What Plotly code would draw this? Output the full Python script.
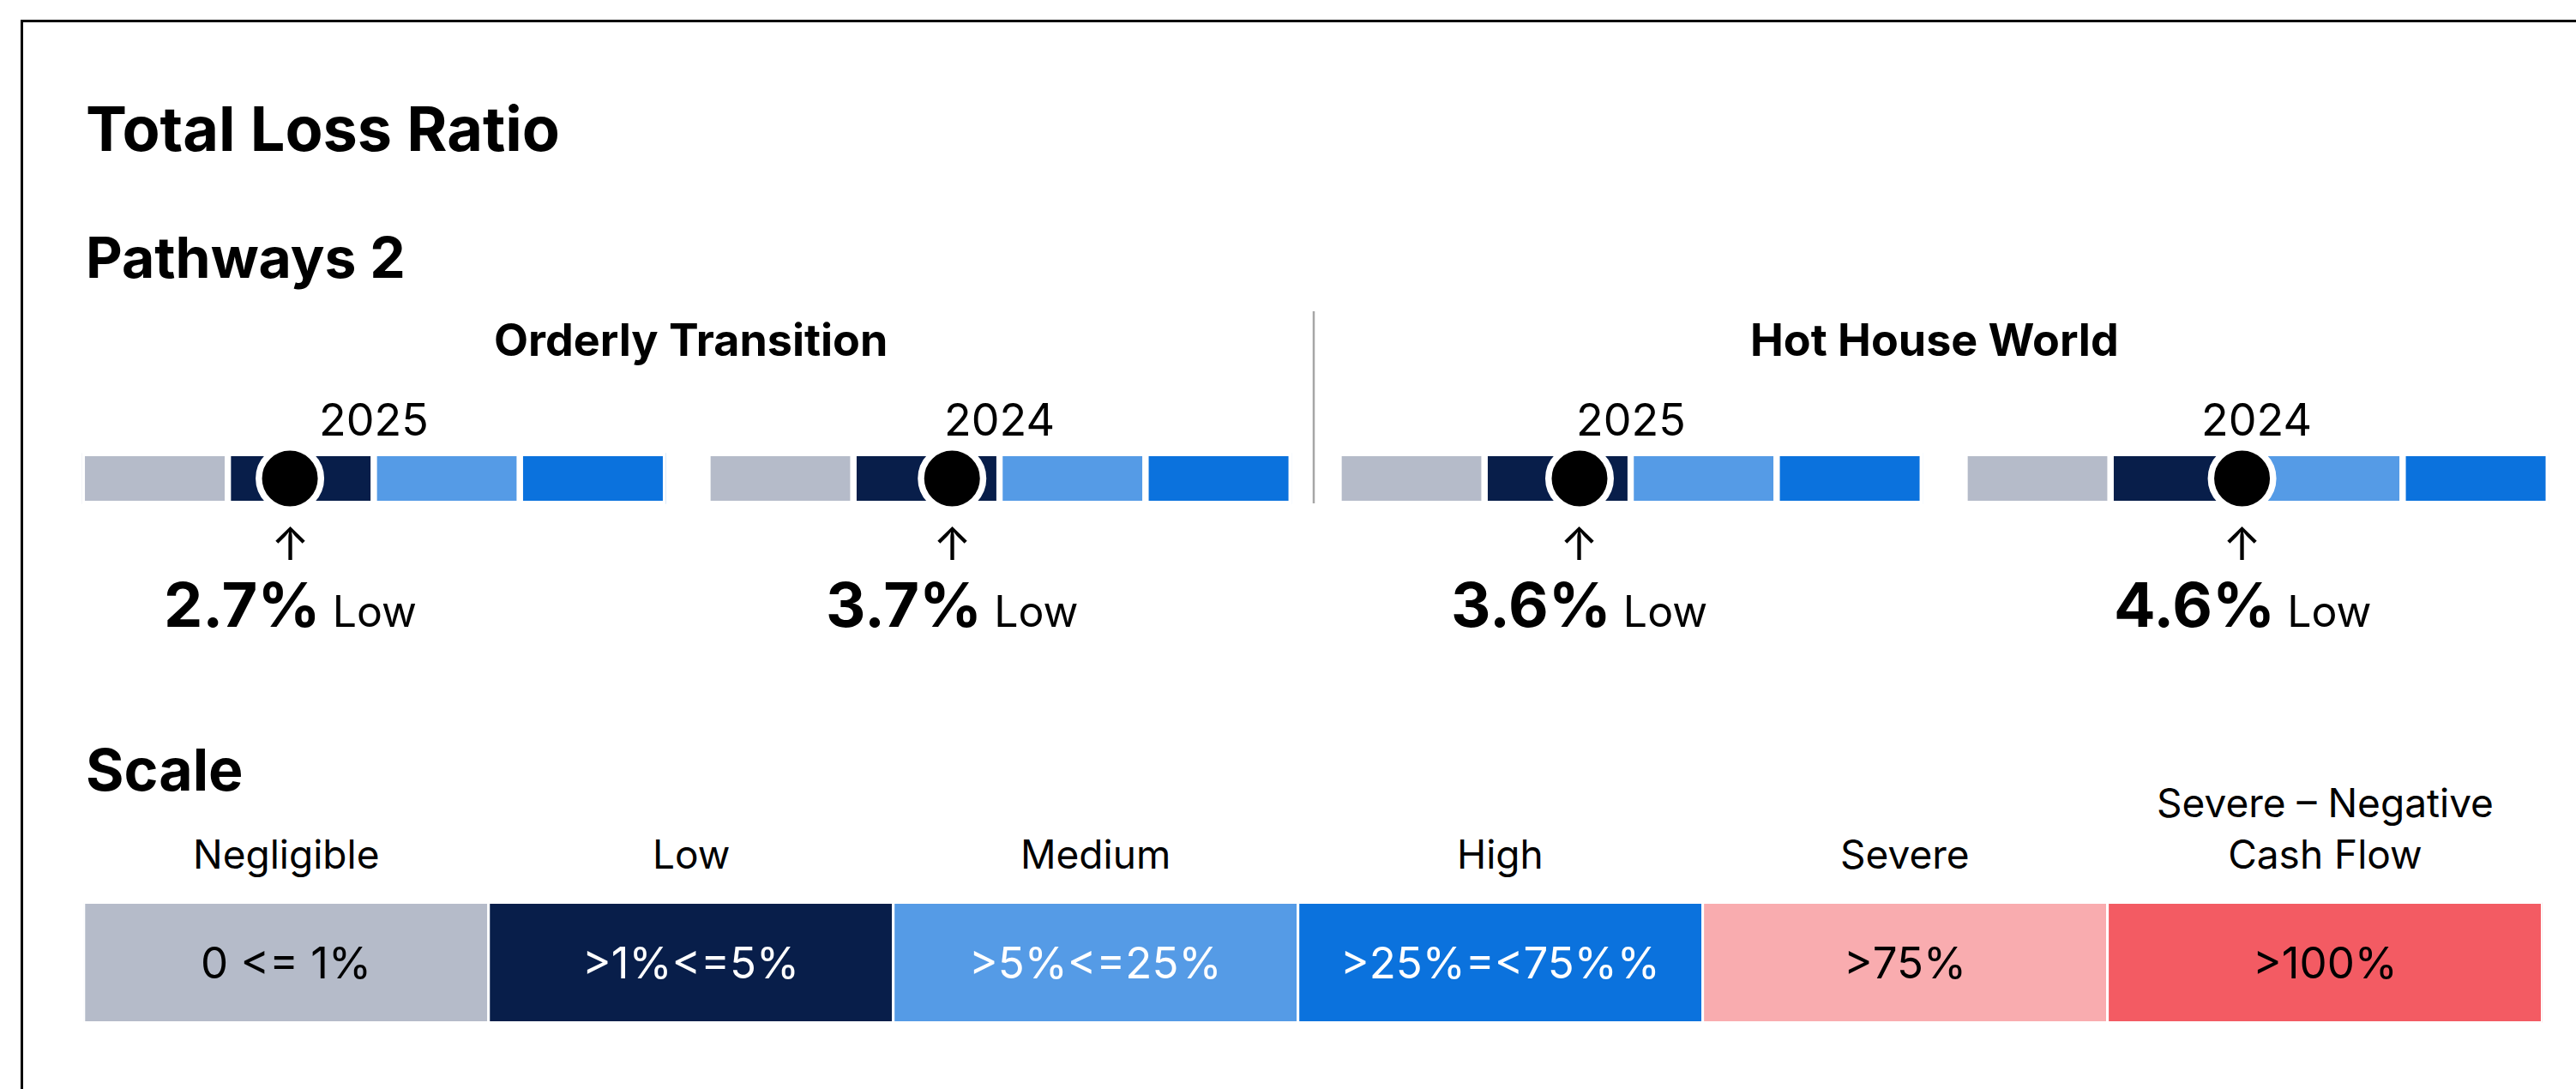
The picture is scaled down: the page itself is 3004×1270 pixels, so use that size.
import plotly.graph_objects as go

# ---------------- data ----------------
chart_title = "Total Loss Ratio"
pathway_title = "Pathways 2"
scale_title = "Scale"

scenarios = ["Orderly Transition", "Hot House World"]
gauge_scenario = ["Orderly Transition", "Orderly Transition", "Hot House World", "Hot House World"]
gauge_years = ["2025", "2024", "2025", "2024"]
gauge_values = [2.7, 3.7, 3.6, 4.6]          # total loss ratio, %
gauge_ratings = ["Low", "Low", "Low", "Low"]

band_names = ["Negligible", "Low", "Medium", "High", "Severe", "Severe – Negative<br>Cash Flow"]
band_ranges = ["0 <= 1%", ">1%<=5%", ">5%<=25%", ">25%=<75%%", ">75%", ">100%"]
band_lower = [0, 1, 5, 25, 75, 100]
band_upper = [1, 5, 25, 75, 100, 150]
gauge_band_count = 4                          # gauges show first four bands

# ---------------- styles / layout ----------------
W, H = 3004, 1270
FONT = "Inter, 'Noto Sans', 'DejaVu Sans', sans-serif"
band_colors = ["#B5BBC9", "#081E4A", "#559BE6", "#0B72DD", "#F9ACAF", "#F35B63"]
band_text_colors = ["#000000", "#FFFFFF", "#FFFFFF", "#FFFFFF", "#000000", "#000000"]

GAUGE_LEFT_PX = [95.4, 825.0, 1561.0, 2291.0]
GAUGE_UNIT_PX = 170.3
GAUGE_GAP_PX = 7.3
GAUGE_ROW_PX = (498, 618)        # y-axis domain in px (top, bottom)
GAUGE_BAR_PX = 52

SCALE_LEFT_PX, SCALE_RIGHT_PX = 97.8, 2964.5
LAST_COL_STRETCH = 1.074
SCALE_ROW_PX = (1030, 1215)
SCALE_BAR_PX = 137
SCALE_GAP_PX = 3


def px_x(p):
    return p / W


def px_y(p):
    return 1 - p / H


def band_position(v):
    """position of a value on the gauge axis (one unit per band)"""
    for i in range(gauge_band_count):
        lo, hi = band_lower[i], band_upper[i]
        if v <= hi:
            return i + (v - lo) / (hi - lo)
    return gauge_band_count


fig = go.Figure()
layout_axes = {}
annotations = []

# ---------------- gauges ----------------
g_dom_y = [px_y(GAUGE_ROW_PX[1]), px_y(GAUGE_ROW_PX[0])]
g_row_h = GAUGE_ROW_PX[1] - GAUGE_ROW_PX[0]
g_bar_w = (GAUGE_BAR_PX + GAUGE_GAP_PX) / g_row_h * 2

for gi in range(4):
    ax = "" if gi == 0 else str(gi + 1)
    xname = "x" + ax
    left = GAUGE_LEFT_PX[gi]
    right = left + GAUGE_UNIT_PX * gauge_band_count
    layout_axes["xaxis" + ax] = dict(domain=[px_x(left), px_x(right)], range=[0, gauge_band_count],
                                      visible=False, fixedrange=True, anchor="y")
    widths = [1] * gauge_band_count
    bases = list(range(gauge_band_count))
    fig.add_trace(go.Bar(
        orientation="h", x=widths, base=bases, y=[0] * gauge_band_count, width=g_bar_w,
        marker=dict(color=band_colors[:gauge_band_count], line=dict(color="white", width=GAUGE_GAP_PX)),
        xaxis=xname, yaxis="y", hoverinfo="skip", showlegend=False))
    pos = band_position(gauge_values[gi])
    fig.add_trace(go.Scatter(
        x=[pos], y=[0], mode="markers", xaxis=xname, yaxis="y",
        marker=dict(size=72.5, color="black", line=dict(color="white", width=7.5)),
        hoverinfo="skip", showlegend=False, cliponaxis=False))
    # year label
    annotations.append(dict(xref=xname, yref="paper", x=gauge_band_count / 2, y=px_y(489),
                            text=gauge_years[gi], showarrow=False, xanchor="center", yanchor="middle",
                            font=dict(family=FONT, size=52, color="black")))
    # arrow glyph
    annotations.append(dict(xref=xname, yref="paper", x=pos, y=px_y(633),
                            text="↑", showarrow=False, xanchor="center", yanchor="middle",
                            font=dict(family=FONT, size=54, color="black")))
    # value + rating
    annotations.append(dict(xref=xname, yref="paper", x=pos, y=px_y(704),
                            text=f"<span style='font-size:72px;font-weight:bold'>{gauge_values[gi]:.1f}%</span>"
                                 f"<span style='font-size:50px'> {gauge_ratings[gi]}</span>",
                            showarrow=False, xanchor="center", yanchor="middle",
                            font=dict(family=FONT, size=50, color="black")))

layout_axes["yaxis"] = dict(domain=g_dom_y, range=[-1, 1], visible=False, fixedrange=True, anchor="x")

# scenario headers
scenario_center_px = {"Orderly Transition": 805, "Hot House World": 2256}
for s in scenarios:
    annotations.append(dict(xref="paper", yref="paper", x=px_x(scenario_center_px[s]), y=px_y(396),
                            text=f"<b>{s}</b>", showarrow=False, xanchor="center", yanchor="middle",
                            font=dict(family=FONT, size=52, color="black")))

# ---------------- scale ----------------
s_widths = [1] * (len(band_names) - 1) + [LAST_COL_STRETCH]
s_bases = [sum(s_widths[:i]) for i in range(len(s_widths))]
s_total = sum(s_widths)
layout_axes["xaxis5"] = dict(domain=[px_x(SCALE_LEFT_PX), px_x(SCALE_RIGHT_PX)], range=[0, s_total],
                             visible=False, fixedrange=True, anchor="y2")
s_row_h = SCALE_ROW_PX[1] - SCALE_ROW_PX[0]
layout_axes["yaxis2"] = dict(domain=[px_y(SCALE_ROW_PX[1]), px_y(SCALE_ROW_PX[0])], range=[-1, 1],
                             visible=False, fixedrange=True, anchor="x5")
fig.add_trace(go.Bar(
    orientation="h", x=s_widths, base=s_bases, y=[0] * len(s_widths),
    width=(SCALE_BAR_PX + SCALE_GAP_PX) / s_row_h * 2,
    marker=dict(color=band_colors, line=dict(color="white", width=SCALE_GAP_PX)),
    xaxis="x5", yaxis="y2", hoverinfo="skip", showlegend=False))

for i, name in enumerate(band_names):
    cx = s_bases[i] + s_widths[i] / 2
    annotations.append(dict(xref="x5", yref="paper", x=cx, y=px_y(1026),
                            text=name, showarrow=False, xanchor="center", yanchor="bottom",
                            font=dict(family=FONT, size=46, color="black")))
    annotations.append(dict(xref="x5", yref="y2", x=cx, y=0,
                            text=band_ranges[i], showarrow=False, xanchor="center", yanchor="middle",
                            font=dict(family=FONT, size=51, color=band_text_colors[i])))

# ---------------- titles ----------------
annotations.append(dict(xref="paper", yref="paper", x=px_x(98), y=px_y(149), text=f"<b>{chart_title}</b>",
                        showarrow=False, xanchor="left", yanchor="middle",
                        font=dict(family=FONT, size=72, color="black")))
annotations.append(dict(xref="paper", yref="paper", x=px_x(98), y=px_y(300), text=f"<b>{pathway_title}</b>",
                        showarrow=False, xanchor="left", yanchor="middle",
                        font=dict(family=FONT, size=66, color="black")))
annotations.append(dict(xref="paper", yref="paper", x=px_x(98), y=px_y(897), text=f"<b>{scale_title}</b>",
                        showarrow=False, xanchor="left", yanchor="middle",
                        font=dict(family=FONT, size=68, color="black")))

shapes = [
    # outer frame (clipped at right/bottom)
    dict(type="rect", xref="paper", yref="paper", x0=px_x(25.5), y0=px_y(24.5), x1=px_x(3200), y1=px_y(1500),
         line=dict(color="black", width=3), fillcolor="rgba(0,0,0,0)", layer="above"),
    # divider between scenarios
    dict(type="line", xref="paper", yref="paper", x0=px_x(1532), x1=px_x(1532), y0=px_y(363), y1=px_y(587),
         line=dict(color="#A6A6A6", width=2.5)),
]

fig.update_layout(
    width=W, height=H, margin=dict(l=0, r=0, t=0, b=0),
    paper_bgcolor="white", plot_bgcolor="rgba(0,0,0,0)",
    barmode="overlay", showlegend=False,
    annotations=annotations, shapes=shapes,
    font=dict(family=FONT),
    **layout_axes,
)

fig.write_html("out.html", config={"displayModeBar": False},
               post_script="document.body.style.margin='0';document.body.style.overflow='hidden';")
